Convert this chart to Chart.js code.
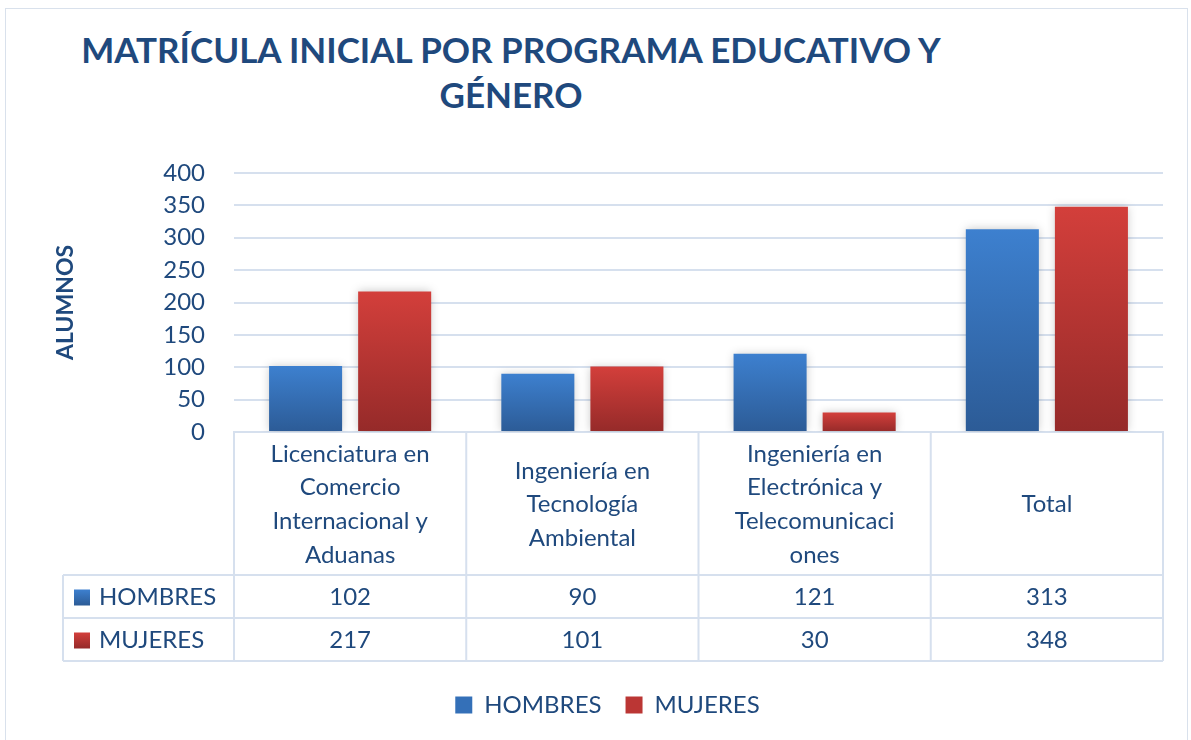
<!DOCTYPE html>
<html>
<head>
<meta charset="utf-8">
<script src="https://cdn.jsdelivr.net/npm/chart.js@4.4.0/dist/chart.umd.min.js"></script>
<style>
  body { margin: 0; background: #fff; }
  #wrap { position: relative; width: 1191px; height: 740px; overflow: hidden; }
  #frame { position: absolute; left: 5px; top: 8px; width: 1183px; height: 760px; border: 1px solid #d9e1ec; box-sizing: border-box; }
  #title { position: absolute; left: 0; top: 27px; width: 1022px; text-align: center;
           font: bold 35px Lato; line-height: 45px; color: #1f497d; }
  canvas { position: absolute; left: 0; top: 0; }
</style>
</head>
<body>
<div id="wrap">
  <div id="frame"></div>
  <div id="title">MATRÍCULA INICIAL POR PROGRAMA EDUCATIVO Y<br>GÉNERO</div>
  <canvas id="chart" width="1191" height="740"></canvas>
</div>
<script>
// data
var categories = [
  ['Licenciatura en', 'Comercio', 'Internacional y', 'Aduanas'],
  ['Ingeniería en', 'Tecnología', 'Ambiental'],
  ['Ingeniería en', 'Electrónica y', 'Telecomunicaci', 'ones'],
  ['Total']
];
var seriesNames = ['HOMBRES', 'MUJERES'];
var hombres = [102, 90, 121, 313];
var mujeres = [217, 101, 30, 348];
var yMin = 0, yMax = 400, yStep = 50;

var textColor = '#1f497d';
var lineColor = '#d6e0ee';
var solidColors = ['#3470b8', '#bb3634'];
var gradColors = [['#3d80cf', '#2c5b96'], ['#d33f3b', '#952a29']];

//per-bar vertical gradient
function barFill(s) {
  return function (ctx) {
    var ch = ctx.chart;
    if (ctx.raw === undefined || !ch.scales.y) return solidColors[s];
    var top = ch.scales.y.getPixelForValue(ctx.raw);
    var bottom = ch.scales.y.getPixelForValue(0);
    if (!isFinite(top) || top === bottom) return solidColors[s];
    var g = ch.ctx.createLinearGradient(0, top, 0, bottom);
    g.addColorStop(0, gradColors[s][0]);
    g.addColorStop(1, gradColors[s][1]);
    return g;
  };
}

//soft shadow around the bars
var shadowPlugin = {
  id: 'barShadow',
  beforeDatasetsDraw: function (chart) {
    var c = chart.ctx;
    c.save();
    c.shadowColor = 'rgba(0,0,0,0.22)';
    c.shadowBlur = 9;
  },
  afterDatasetsDraw: function (chart) {
    chart.ctx.restore();
  }
};

//data table under the axis
var tablePlugin = {
  id: 'dataTable',
  afterDraw: function (chart) {
    var c = chart.ctx, a = chart.chartArea, x = chart.scales.x;
    var n = categories.length;
    var w = (a.right - a.left) / n;
    var headBottom = a.bottom + 143;
    var rowH = 43;
    var tableLeft = 63;
    var rows = [hombres, mujeres];

    c.save();
    c.strokeStyle = lineColor;
    c.lineWidth = 2;
    c.beginPath();
    for (var r = 0; r <= 2; r++) {
      c.moveTo(tableLeft, headBottom + r * rowH);
      c.lineTo(a.right, headBottom + r * rowH);
    }
    for (var i = 0; i <= n; i++) {
      c.moveTo(a.left + i * w, a.bottom);
      c.lineTo(a.left + i * w, headBottom + 2 * rowH);
    }
    c.moveTo(tableLeft, headBottom);
    c.lineTo(tableLeft, headBottom + 2 * rowH);
    c.stroke();

    c.font = '24px Lato';
    c.fillStyle = textColor;
    c.textBaseline = 'middle';
    rows.forEach(function (vals, r) {
      var cy = headBottom + r * rowH + rowH / 2 + 1;
      c.textAlign = 'center';
      vals.forEach(function (v, i) {
        c.fillText(String(v), x.getPixelForValue(i), cy);
      });
      //row label with its marker
      var g = c.createLinearGradient(0, cy - 8, 0, cy + 8);
      g.addColorStop(0, gradColors[r][0]);
      g.addColorStop(1, gradColors[r][1]);
      c.fillStyle = g;
      c.fillRect(74, cy - 8, 16, 16);
      c.fillStyle = textColor;
      c.textAlign = 'left';
      c.fillText(seriesNames[r], 99, cy);
    });
    c.restore();
  }
};

var data = {
  labels: categories,
  datasets: [
    { label: seriesNames[0], data: hombres, backgroundColor: barFill(0) },
    { label: seriesNames[1], data: mujeres, backgroundColor: barFill(1) }
  ]
};

var options = {
  responsive: false,
  animation: false,
  events: [],
  layout: { padding: { left: 52, right: 28, top: 173, bottom: 13 } },
  datasets: { bar: { categoryPercentage: 0.767, barPercentage: 0.82 } },
  plugins: {
    tooltip: { enabled: false },
    legend: {
      position: 'bottom',
      labels: {
        font: { family: 'Lato', size: 24 },
        color: textColor,
        boxWidth: 17,
        boxHeight: 17,
        padding: 24,
        generateLabels: function (chart) {
          return Chart.defaults.plugins.legend.labels.generateLabels(chart).map(function (l, i) {
            l.fillStyle = solidColors[i];
            l.strokeStyle = solidColors[i];
            l.lineWidth = 0;
            return l;
          });
        }
      }
    }
  },
  scales: {
    x: {
      grid: { display: false },
      border: { display: true, color: lineColor, width: 2 },
      ticks: {
        font: { family: 'Lato', size: 24, lineHeight: 1.4 },
        color: textColor,
        autoSkip: false,
        maxRotation: 0,
        crossAlign: 'center',
        padding: 14
      },
      afterFit: function (scale) { scale.height = 237; }
    },
    y: {
      min: yMin,
      max: yMax,
      ticks: {
        stepSize: yStep,
        font: { family: 'Lato', size: 24 },
        color: textColor,
        padding: 29
      },
      grid: { color: lineColor, lineWidth: 2, drawTicks: false },
      border: { display: false },
      title: {
        display: true,
        text: 'ALUMNOS',
        font: { family: 'Lato', size: 23, weight: 'bold' },
        color: textColor,
        padding: { top: 0, bottom: 0 }
      },
      afterFit: function (scale) { scale.width = 182; }
    }
  }
};

var chart = new Chart(document.getElementById('chart'), {
  type: 'bar',
  data: data,
  options: options,
  plugins: [shadowPlugin, tablePlugin]
});
</script>
</body>
</html>
